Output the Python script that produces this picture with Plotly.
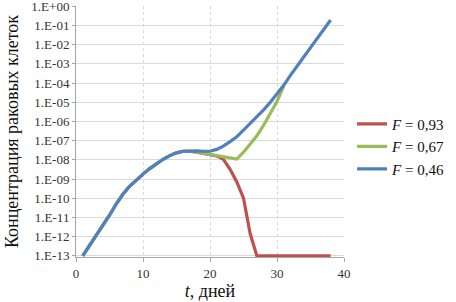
import plotly.graph_objects as go

# days
t_blue = list(range(1, 39))
t_green = list(range(1, 32))
t_red = list(range(1, 39))

# concentrations
c_blue = [1.0e-13, 3.3e-13, 1.1e-12, 3.7e-12, 1.3e-11, 5.0e-11, 1.6e-10, 4.2e-10, 8.9e-10, 1.8e-9,
          3.5e-9, 6.3e-9, 1.07e-8, 1.66e-8, 2.3e-8, 2.8e-8, 2.9e-8, 2.9e-8, 2.8e-8, 2.8e-8,
          3.5e-8, 5.2e-8, 8.9e-8, 1.6e-7, 3.5e-7, 7.6e-7, 1.66e-6, 4.0e-6, 1.0e-5, 2.7e-5,
          7.6e-5, 2.5e-4, 7.6e-4, 2.3e-3, 6.9e-3, 2.1e-2, 6.3e-2, 1.9e-1]
c_green = [1.0e-13, 3.3e-13, 1.1e-12, 3.7e-12, 1.3e-11, 5.0e-11, 1.6e-10, 4.2e-10, 8.9e-10, 1.8e-9,
           3.5e-9, 6.3e-9, 1.07e-8, 1.66e-8, 2.3e-8, 2.8e-8, 2.8e-8, 2.5e-8, 2.2e-8, 1.9e-8,
           1.66e-8, 1.5e-8, 1.3e-8, 1.1e-8, 2.5e-8, 6.3e-8, 1.8e-7, 6.3e-7, 2.5e-6, 1.1e-5,
           7.0e-5]
c_red = [1.0e-13, 3.3e-13, 1.1e-12, 3.7e-12, 1.3e-11, 5.0e-11, 1.6e-10, 4.2e-10, 8.9e-10, 1.8e-9,
         3.5e-9, 6.3e-9, 1.07e-8, 1.66e-8, 2.3e-8, 2.8e-8, 2.8e-8, 2.5e-8, 2.2e-8, 1.9e-8,
         1.6e-8, 1.05e-8, 3.2e-9, 7.1e-10, 1.0e-10, 1.4e-12, 1.0e-13, 1.0e-13, 1.0e-13, 1.0e-13,
         1.0e-13, 1.0e-13, 1.0e-13, 1.0e-13, 1.0e-13, 1.0e-13, 1.0e-13, 1.0e-13]

names = ["<i>F</i> = 0,93", "<i>F</i> = 0,67", "<i>F</i> = 0,46"]
colors = ["#C0504D", "#9BBB59", "#4F81BD"]

y_tickvals = [10.0 ** (-k) for k in range(0, 14)]
y_ticktext = ["1.E+00"] + ["1.E-%02d" % k for k in range(1, 14)]
x_tickvals = [0, 10, 20, 30, 40]

fig = go.Figure()
for t, c, n, col in zip([t_red, t_green, t_blue], [c_red, c_green, c_blue], names, colors):
    fig.add_trace(go.Scatter(x=t, y=c, mode="lines", name=n,
                             line=dict(color=col, width=3.2)))

font = "Liberation Serif"
fig.update_layout(
    width=456, height=302,
    margin=dict(l=76, r=112, t=6, b=45, autoexpand=False),
    paper_bgcolor="white", plot_bgcolor="white",
    font=dict(family=font, color="#222222"),
    showlegend=True,
    legend=dict(x=1.03, y=0.44, xanchor="left", yanchor="middle",
                font=dict(size=15, family=font, color="#111111"),
                tracegroupgap=0, itemwidth=30, bgcolor="rgba(0,0,0,0)"),
)
fig.update_xaxes(
    range=[0, 40], tickvals=x_tickvals, showgrid=True, gridcolor="#D9D9D9", griddash="dot",
    showline=True, linecolor="#A6A6A6", linewidth=1, zeroline=False, automargin=False,
    ticks="outside", ticklen=4, tickcolor="#A6A6A6", ticklabeloverflow="allow",
    tickfont=dict(size=13, family=font, color="#333333"),
    title=dict(text="<i>t</i>, дней", font=dict(size=18, family=font, color="#111111"), standoff=2),
)
fig.update_yaxes(
    type="log", range=[-13.06, 0.01], tickvals=y_tickvals, ticktext=y_ticktext,
    showgrid=True, gridcolor="#D9D9D9", showline=True, linecolor="#A6A6A6", linewidth=1,
    zeroline=False, automargin=False, ticks="outside", ticklen=3, tickcolor="#A6A6A6",
    ticklabeloverflow="allow",
    tickfont=dict(size=13, family=font, color="#333333"),
    title=dict(text="Концентрация раковых клеток", font=dict(size=18, family=font, color="#111111"), standoff=8),
)
fig.write_html("out.html", config={"displayModeBar": False},
               post_script="document.body.style.margin='0';document.body.style.padding='0';")
